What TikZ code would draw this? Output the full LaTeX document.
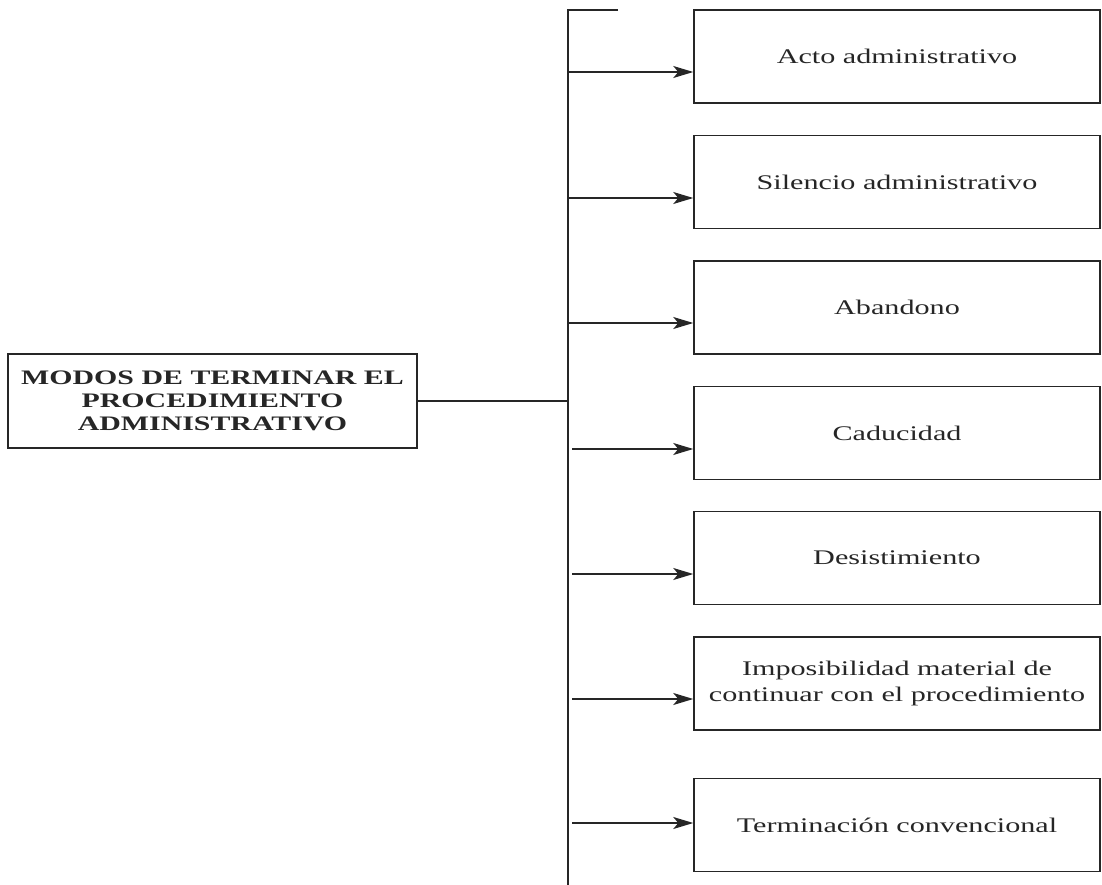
\documentclass[tikz,border=0pt]{standalone}
\usepackage{fontspec}
\setmainfont{Liberation Serif}[FakeStretch=1.45]
\usetikzlibrary{arrows.meta}
\tikzset{
  line/.style={draw=black!85, line width=1.5pt},
  leaf/.style={line, rectangle, minimum width=406pt, minimum height=93pt, inner sep=0pt,
    align=center, text=black!85, font=\fontsize{20.8pt}{26pt}\selectfont},
  root/.style={line, rectangle, minimum width=409pt, minimum height=94pt, inner sep=0pt,
    align=center, text=black!85, font=\fontsize{20.6pt}{23pt}\selectfont\bfseries},
  conn/.style={line, >={Stealth[length=20pt,width=12pt,inset=5pt]}, ->},
}
\begin{document}
\begin{tikzpicture}[x=1pt,y=-1pt]
\useasboundingbox (0,0) rectangle (1102,885);
\node[root] (root) at (212.5,401) {MODOS DE TERMINAR EL\\PROCEDIMIENTO\\ADMINISTRATIVO};
\node[leaf] (b1) at (897,56.5) {Acto administrativo};
\node[leaf] (b2) at (897,182) {Silencio administrativo};
\node[leaf] (b3) at (897,307.5) {Abandono};
\node[leaf] (b4) at (897,433) {Caducidad};
\node[leaf] (b5) at (897,558) {Desistimiento};
\node[leaf] (b6) at (897,683.5) {Imposibilidad material de\\continuar con el procedimiento};
\node[leaf] (b7) at (897,825) {Terminación convencional};
\coordinate (ttop) at (568,10);
\coordinate (tcap) at (618,10);
\coordinate (tbot) at (568,885);
\coordinate (tj) at (568,401);
\draw[line] (tcap) -- (ttop) -- (tbot);
\draw[line] (root.east) -- (tj);
\coordinate (s1) at (568,72);
\coordinate (s2) at (568,198);
\coordinate (s3) at (568,323);
\coordinate (s4) at (572,449);
\coordinate (s5) at (572,574);
\coordinate (s6) at (572,699);
\coordinate (s7) at (572,823);
\draw[conn] (s1) -- (s1 -| b1.west);
\draw[conn] (s2) -- (s2 -| b2.west);
\draw[conn] (s3) -- (s3 -| b3.west);
\draw[conn] (s4) -- (s4 -| b4.west);
\draw[conn] (s5) -- (s5 -| b5.west);
\draw[conn] (s6) -- (s6 -| b6.west);
\draw[conn] (s7) -- (s7 -| b7.west);
\end{tikzpicture}
\end{document}
